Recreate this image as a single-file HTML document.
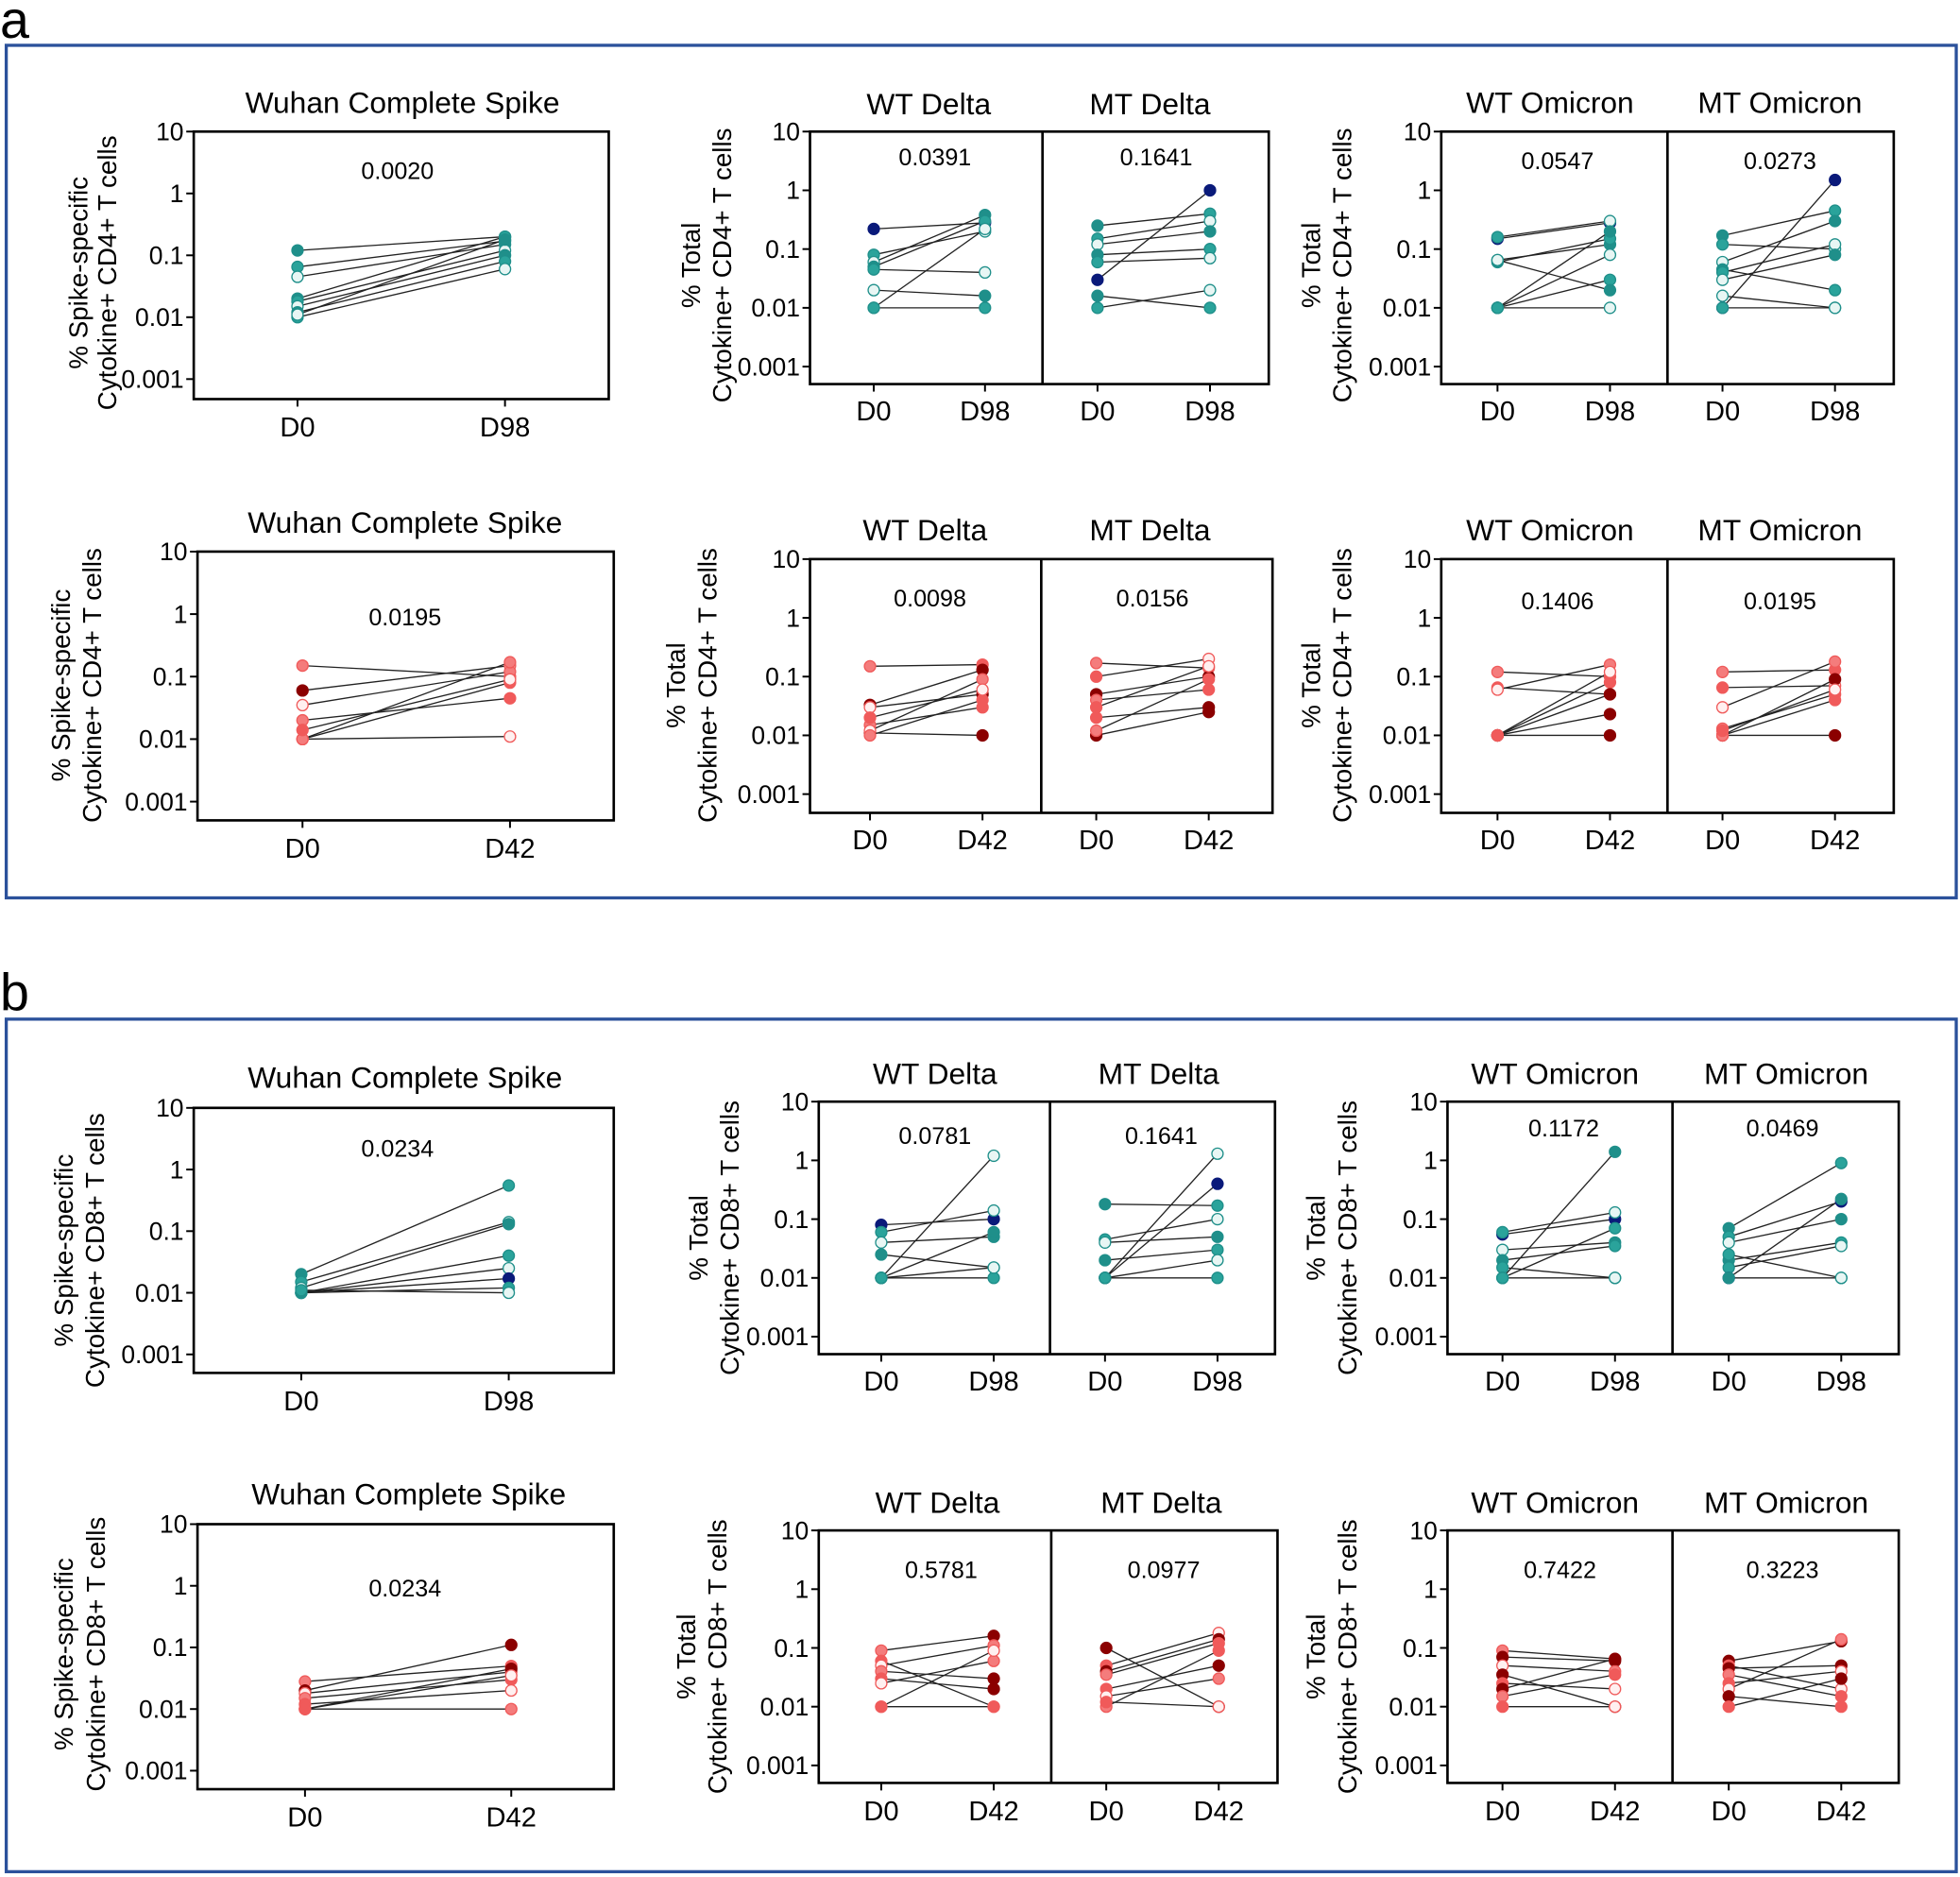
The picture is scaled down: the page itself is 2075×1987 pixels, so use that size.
<!DOCTYPE html>
<html><head><meta charset="utf-8">
<style>html,body{margin:0;padding:0;background:#fff}svg{display:block}</style>
</head><body>
<svg id="s" xmlns="http://www.w3.org/2000/svg" width="2075" height="1987" viewBox="0 0 1568 1501" font-family="Liberation Sans, Arial, sans-serif">
<rect x="0" y="0" width="1568" height="1501" fill="#fff"/>
<text x="0" y="30" font-size="42">a</text>
<text x="0" y="808" font-size="42">b</text>
<rect x="5" y="36" width="1560" height="682" fill="none" stroke="#2b519b" stroke-width="2.5"/>
<rect x="5" y="815" width="1560" height="682" fill="none" stroke="#2b519b" stroke-width="2.5"/>
</svg>
<script>
const S=document.getElementById('s');let h='';
const T=['#1f8f8a','#2aa39b','#e8f6f4'],R=['#f47c7c','#f05a5a','#fff0f0'];
function col(c,i,red){if(c==='d')return['#8b0000','#8b0000'];if(c==='n')return['#0a1a7a','#0a1a7a'];
 const p=red?R:T;const f=p[i%3];return[f,red?'#f05a5a':'#1f8f8a'];}
function lg(v){return Math.log10(v);}
function plot(o){
 const {x1,x2,yt,yb,dec,div,xs,titles,vals,labs,yl,ylx,red,data,labY}=o;
 const y01=yt+3*dec;
 h+=`<rect x="${x1}" y="${yt}" width="${x2-x1}" height="${yb-yt}" fill="none" stroke="#000" stroke-width="2"/>`;
 if(div)h+=`<line x1="${div}" y1="${yt}" x2="${div}" y2="${yb}" stroke="#000" stroke-width="2"/>`;
 ['10','1','0.1','0.01','0.001'].forEach((t,i)=>{const y=yt+i*dec;
  h+=`<line x1="${x1-6}" y1="${y}" x2="${x1}" y2="${y}" stroke="#000" stroke-width="1.5"/>`;
  h+=`<text x="${x1-8}" y="${y+7}" font-size="20" text-anchor="end">${t}</text>`;});
 xs.forEach((x,i)=>{h+=`<line x1="${x}" y1="${yb}" x2="${x}" y2="${yb+6}" stroke="#000" stroke-width="1.5"/>`;
  h+=`<text x="${x}" y="${labY}" font-size="22" text-anchor="middle">${labs[i%2]}</text>`;});
 titles.forEach(t=>h+=`<text x="${t[0]}" y="${t[1]}" font-size="24" text-anchor="middle">${t[2]}</text>`);
 vals.forEach(t=>h+=`<text x="${t[0]}" y="${t[1]}" font-size="19" text-anchor="middle">${t[2]}</text>`);
 h+=`<text transform="translate(${ylx[0]},${yl}) rotate(-90)" font-size="21" text-anchor="middle">${ylx[2]}</text>`;
 h+=`<text transform="translate(${ylx[1]},${yl}) rotate(-90)" font-size="21" text-anchor="middle">${ylx[3]}</text>`;
 data.forEach((set,k)=>{const a=xs[2*k],b=xs[2*k+1];let pts='';
  set.forEach((d,i)=>{const ya=y01-(lg(d[0])+2)*dec,yb2=y01-(lg(d[1])+2)*dec;
   h+=`<line x1="${a}" y1="${ya}" x2="${b}" y2="${yb2}" stroke="#222" stroke-width="1"/>`;
   const c0=col(d[3]||'',i,red),c1=col(d[2]||'',i+1,red);
   pts+=`<circle cx="${a}" cy="${ya}" r="4.5" fill="${c0[0]}" stroke="${c0[1]}" stroke-width="1"/>`;
   pts+=`<circle cx="${b}" cy="${yb2}" r="4.5" fill="${c1[0]}" stroke="${c1[1]}" stroke-width="1"/>`;});
  h+=pts;});
}
plot({x1:155,x2:487,yt:105,yb:319,dec:49.5,xs:[238,404],labs:['D0','D98'],labY:349,titles:[[322,90,'Wuhan Complete Spike']],vals:[[318,143,'0.0020']],yl:218,ylx:[70,93,'% Spike-specific','Cytokine+ CD4+ T cells'],
 data:[[[0.12,0.2],[0.065,0.17],[0.045,0.15],[0.02,0.2],[0.018,0.12],[0.015,0.1],[0.012,0.08],[0.01,0.06],[0.011,0.18]]]});
plot({x1:648,x2:1015,yt:105,yb:307,dec:47,div:834,xs:[699,788,878,968],labs:['D0','D98'],labY:336,titles:[[743,91,'WT Delta'],[920,91,'MT Delta']],vals:[[748,132,'0.0391'],[925,132,'0.1641']],yl:212,ylx:[560,585,'% Total','Cytokine+ CD4+ T cells'],
 data:[[[0.22,0.28,'n','n'],[0.08,0.2],[0.06,0.38],[0.05,0.3],[0.045,0.04],[0.02,0.016],[0.01,0.01],[0.01,0.22]],
 [[0.25,0.4],[0.15,0.3],[0.12,0.2],[0.08,0.1],[0.06,0.07],[0.03,1.0,'n','n'],[0.016,0.01],[0.01,0.02]]]});
plot({x1:1153,x2:1515,yt:105,yb:307,dec:47,div:1334,xs:[1198,1288,1378,1468],labs:['D0','D98'],labY:336,titles:[[1240,90,'WT Omicron'],[1424,90,'MT Omicron']],vals:[[1246,135,'0.0547'],[1424,135,'0.0273']],yl:212,ylx:[1056,1081,'% Total','Cytokine+ CD4+ T cells'],
 data:[[[0.15,0.28,'n','n'],[0.16,0.3],[0.065,0.12],[0.06,0.15],[0.01,0.08],[0.01,0.2],[0.01,0.03],[0.01,0.01],[0.065,0.02]],
 [[0.17,0.45],[0.12,0.1],[0.06,0.3],[0.045,0.02],[0.04,0.12],[0.016,0.01],[0.01,1.5,'n','n'],[0.01,0.01],[0.03,0.08]]]});
plot({x1:158,x2:491,yt:441,yb:656,dec:50,xs:[242,408],labs:['D0','D42'],labY:686,titles:[[324,426,'Wuhan Complete Spike']],vals:[[324,500,'0.0195']],yl:548,ylx:[56,81,'% Spike-specific','Cytokine+ CD4+ T cells'],red:1,
 data:[[[0.15,0.1],[0.06,0.15,'','d'],[0.035,0.12],[0.02,0.045],[0.01,0.011],[0.01,0.17],[0.01,0.08],[0.014,0.09]]]});
plot({x1:648,x2:1018,yt:447,yb:650,dec:47,div:833,xs:[696,786,877,967],labs:['D0','D42'],labY:679,titles:[[740,432,'WT Delta'],[920,432,'MT Delta']],vals:[[744,485,'0.0098'],[922,485,'0.0156']],yl:548,ylx:[548,573,'% Total','Cytokine+ CD4+ T cells'],red:1,
 data:[[[0.15,0.16],[0.033,0.13,'d','d'],[0.03,0.05,'d'],[0.015,0.03],[0.011,0.01,'d','d'],[0.012,0.09],[0.01,0.04],[0.02,0.06]],
 [[0.17,0.14],[0.1,0.2],[0.05,0.1,'d','d'],[0.04,0.06],[0.02,0.03,'d'],[0.01,0.025,'d','d'],[0.012,0.09],[0.03,0.15]]]});
plot({x1:1153,x2:1515,yt:447,yb:650,dec:47,div:1334,xs:[1198,1288,1378,1468],labs:['D0','D42'],labY:679,titles:[[1240,432,'WT Omicron'],[1424,432,'MT Omicron']],vals:[[1246,487,'0.1406'],[1424,487,'0.0195']],yl:548,ylx:[1056,1081,'% Total','Cytokine+ CD4+ T cells'],red:1,
 data:[[[0.12,0.1],[0.065,0.05],[0.06,0.16],[0.01,0.08,'','d'],[0.01,0.023,'d','d'],[0.01,0.01,'d','d'],[0.01,0.05,'d'],[0.01,0.12]],
 [[0.12,0.13],[0.065,0.07],[0.03,0.18],[0.013,0.05],[0.01,0.01,'d','d'],[0.01,0.09,'d'],[0.01,0.04],[0.012,0.06]]]});
plot({x1:155,x2:491,yt:886,yb:1098,dec:49.3,xs:[241,407],labs:['D0','D98'],labY:1128,titles:[[324,870,'Wuhan Complete Spike']],vals:[[318,925,'0.0234']],yl:1000,ylx:[58,83,'% Spike-specific','Cytokine+ CD8+ T cells'],
 data:[[[0.02,0.55],[0.015,0.14],[0.012,0.13],[0.01,0.04],[0.01,0.025],[0.01,0.017,'n'],[0.01,0.012],[0.011,0.01]]]});
plot({x1:655,x2:1020,yt:881,yb:1083,dec:47,div:840,xs:[705,795,884,974],labs:['D0','D98'],labY:1112,titles:[[748,867,'WT Delta'],[927,867,'MT Delta']],vals:[[748,915,'0.0781'],[929,915,'0.1641']],yl:990,ylx:[566,591,'% Total','Cytokine+ CD8+ T cells'],
 data:[[[0.08,0.1,'n','n'],[0.06,0.14],[0.04,0.05],[0.025,0.015],[0.01,1.2],[0.01,0.06],[0.01,0.01],[0.01,0.015]],
 [[0.18,0.17],[0.045,0.1],[0.04,0.05],[0.02,0.03],[0.01,1.3,'','n'],[0.01,0.4,'n'],[0.01,0.01],[0.01,0.02]]]});
plot({x1:1158,x2:1519,yt:881,yb:1083,dec:47,div:1338,xs:[1202,1292,1383,1473],labs:['D0','D98'],labY:1112,titles:[[1244,867,'WT Omicron'],[1429,867,'MT Omicron']],vals:[[1251,909,'0.1172'],[1426,909,'0.0469']],yl:990,ylx:[1060,1085,'% Total','Cytokine+ CD8+ T cells'],
 data:[[[0.055,0.1,'n','n'],[0.06,0.13],[0.03,0.04],[0.02,0.035],[0.015,0.01],[0.01,1.4],[0.01,0.07],[0.01,0.01]],
 [[0.07,0.9],[0.05,0.2,'n'],[0.04,0.1],[0.02,0.04],[0.015,0.035],[0.01,0.22,'','n'],[0.01,0.01],[0.025,0.01]]]});
plot({x1:158,x2:491,yt:1219,yb:1431,dec:49.3,xs:[244,409],labs:['D0','D42'],labY:1461,titles:[[327,1203,'Wuhan Complete Spike']],vals:[[324,1277,'0.0234']],yl:1323,ylx:[58,84,'% Spike-specific','Cytokine+ CD8+ T cells'],red:1,
 data:[[[0.028,0.05],[0.02,0.11,'d','d'],[0.018,0.04],[0.015,0.03],[0.012,0.02],[0.01,0.01],[0.01,0.045,'d'],[0.01,0.035]]]});
plot({x1:655,x2:1022,yt:1224,yb:1426,dec:47,div:841,xs:[705,795,885,975],labs:['D0','D42'],labY:1456,titles:[[750,1210,'WT Delta'],[929,1210,'MT Delta']],vals:[[753,1262,'0.5781'],[931,1262,'0.0977']],yl:1325,ylx:[556,581,'% Total','Cytokine+ CD8+ T cells'],red:1,
 data:[[[0.09,0.16,'d'],[0.06,0.01],[0.05,0.11],[0.04,0.03,'d'],[0.03,0.02,'d'],[0.025,0.06],[0.01,0.01],[0.01,0.09]],
 [[0.1,0.01,'d','d'],[0.05,0.18],[0.04,0.14,'d','d'],[0.035,0.12],[0.02,0.05,'d'],[0.015,0.03],[0.01,0.09],[0.012,0.01]]]});
plot({x1:1158,x2:1519,yt:1224,yb:1426,dec:47,div:1338,xs:[1202,1292,1383,1473],labs:['D0','D42'],labY:1456,titles:[[1244,1210,'WT Omicron'],[1429,1210,'MT Omicron']],vals:[[1248,1262,'0.7422'],[1426,1262,'0.3223']],yl:1325,ylx:[1060,1085,'% Total','Cytokine+ CD8+ T cells'],red:1,
 data:[[[0.09,0.065],[0.07,0.06,'d','d'],[0.05,0.04],[0.035,0.01,'d','d'],[0.025,0.02],[0.02,0.065,'d','d'],[0.015,0.035],[0.01,0.01]],
 [[0.06,0.13,'d','d'],[0.05,0.02],[0.045,0.05,'d','d'],[0.035,0.015],[0.025,0.04],[0.02,0.14],[0.015,0.01,'','d'],[0.01,0.03,'d']]]});
S.insertAdjacentHTML('beforeend',h);
</script>
</body></html>
